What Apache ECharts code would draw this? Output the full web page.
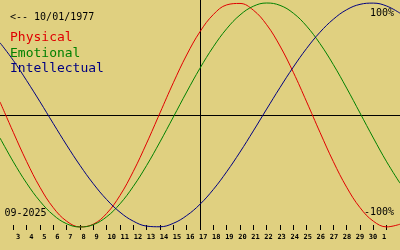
<!DOCTYPE html>
<html><head><meta charset="utf-8">
<script src="https://cdn.jsdelivr.net/npm/echarts@6/dist/echarts.min.js"></script>
<style>html,body{margin:0;padding:0;background:#e0d080}#c{width:400px;height:250px}</style>
</head><body><div id="c"></div>
<script>
// Day positions (Sep 2 2025 .. Oct 2 2025)
const days = ['2','3','4','5','6','7','8','9','10','11','12','13','14','15','16','17','18','19','20','21','22','23','24','25','26','27','28','29','30','31','32'];
const tickLabels = ['','3','4','5','6','7','8','9','10','11','12','13','14','15','16','17','18','19','20','21','22','23','24','25','26','27','28','29','30','1',''];
const physical = [0.117,-0.155,-0.416,-0.646,-0.828,-0.948,-0.999,-0.975,-0.879,-0.718,-0.503,-0.251,0.019,0.288,0.536,0.744,0.897,0.983,0.996,0.936,0.806,0.616,0.381,0.117,-0.155,-0.416,-0.645,-0.827,-0.948,-0.999,-0.975];
const emotional = [-0.205,-0.418,-0.609,-0.770,-0.893,-0.971,-1.000,-0.979,-0.909,-0.793,-0.637,-0.450,-0.240,-0.018,0.205,0.418,0.609,0.770,0.893,0.971,1.000,0.979,0.909,0.793,0.637,0.450,0.240,0.018,-0.205,-0.418,-0.609];
const intellectual = [0.645,0.487,0.307,0.118,-0.077,-0.269,-0.450,-0.614,-0.755,-0.868,-0.948,-0.992,-0.998,-0.967,-0.898,-0.797,-0.665,-0.507,-0.331,-0.142,0.053,0.245,0.428,0.595,0.739,0.855,0.940,0.988,0.999,0.973,0.909];
const todayIndex = 15;
const birthLabel = '<-- 10/01/1977';
const monthLabel = '09-2025';
const seriesNames = ['Physical','Emotional','Intellectual'];
const colors = ['#e00000','#008000','#000080'];
const topLabel = '100%';
const bottomLabel = '-100%';

const yLim = 1.0268;
const chart = echarts.init(document.getElementById('c'), null, {renderer:'canvas'});
const mono = '"DejaVu Sans Mono", monospace';
const opt = {
  animation: false,
  backgroundColor: '#e0d080',
  grid: [
    {left: 0, right: 0, top: 0, bottom: 20},
    {left: -5, right: 5, top: 0, bottom: 20}
  ],
  xAxis: [
    {type:'category', gridIndex:0, data: days, boundaryGap:false, position:'bottom',
     axisLine:{show:false, onZero:false},
     axisTick:{show:true, inside:true, length:5, interval:(i)=> i>0 && i<days.length-1, lineStyle:{color:'#000', width:1}},
     axisLabel:{show:false},
     splitLine:{show:true, interval:(i)=> i===todayIndex, lineStyle:{color:'#000', width:1}}
    },
    {type:'category', gridIndex:0, data: days, boundaryGap:false, position:'top',
     axisLine:{show:true, onZero:true, lineStyle:{color:'#000', width:1}},
     axisTick:{show:false}, axisLabel:{show:false}, splitLine:{show:false}
    },
    {type:'category', gridIndex:1, data: days, boundaryGap:false, position:'bottom',
     axisLine:{show:false, onZero:false}, axisTick:{show:false}, splitLine:{show:false},
     axisLabel:{show:true, interval:0, align:'left', margin:4, color:'#000',
       fontFamily: mono, fontSize:7, fontWeight:'bold', formatter:(v,i)=> tickLabels[i]}
    }
  ],
  yAxis: [
    {type:'value', gridIndex:0, min:-yLim, max:yLim, show:false},
    {type:'value', gridIndex:1, min:-yLim, max:yLim, show:false}
  ],
  series: [physical, emotional, intellectual].map((d,k)=>({
    type:'line', name: seriesNames[k], xAxisIndex:0, yAxisIndex:0, data:d,
    smooth:0.4, showSymbol:false, symbol:'none',
    lineStyle:{color:colors[k], width:1}, itemStyle:{color:colors[k]}
  })),
  graphic: [
    {type:'text', x:10, y:17, style:{text:birthLabel, font:'10px '+mono, fill:'#000', verticalAlign:'middle'}},
    {type:'text', x:10, y:38, style:{text:seriesNames[0], font:'13px '+mono, fill:colors[0], verticalAlign:'middle'}},
    {type:'text', x:10, y:53.5, style:{text:seriesNames[1], font:'13px '+mono, fill:colors[1], verticalAlign:'middle'}},
    {type:'text', x:10, y:68.5, style:{text:seriesNames[2], font:'13px '+mono, fill:colors[2], verticalAlign:'middle'}},
    {type:'text', x:394, y:13, style:{text:topLabel, font:'10px '+mono, fill:'#000', align:'right', verticalAlign:'middle'}},
    {type:'text', x:394, y:212, style:{text:bottomLabel, font:'10px '+mono, fill:'#000', align:'right', verticalAlign:'middle'}},
    {type:'text', x:4.5, y:213, style:{text:monthLabel, font:'10px '+mono, fill:'#000', verticalAlign:'middle'}}
  ]
};
chart.setOption(opt);
</script></body></html>
